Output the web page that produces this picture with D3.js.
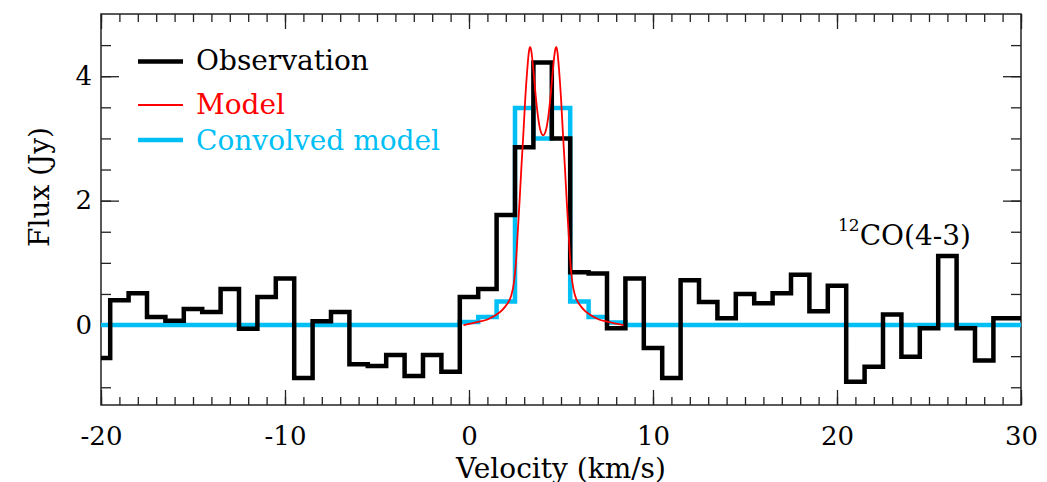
<!DOCTYPE html>
<html>
<head>
<meta charset="utf-8">
<script src="https://cdn.jsdelivr.net/npm/d3@7"></script>
<style>
  html, body { margin: 0; padding: 0; background: #fff; }
  svg { display: block; }
  text { font-family: "DejaVu Serif", "Liberation Serif", serif; }
</style>
</head>
<body>
<svg id="chart" width="1047" height="482"></svg>
<script>
// Channel velocities (km/s), one per spectral bin
const velocity = [-20, -19, -18, -17, -16, -15, -14, -13, -12, -11,
                  -10, -9, -8, -7, -6, -5, -4, -3, -2, -1,
                  0, 1, 2, 3, 4, 5, 6, 7, 8, 9,
                  10, 11, 12, 13, 14, 15, 16, 17, 18, 19,
                  20, 21, 22, 23, 24, 25, 26, 27, 28, 29, 30];

// Observed 12CO(4-3) flux per channel (Jy)
const observedFlux = [-0.53, 0.40, 0.51, 0.13, 0.07, 0.26, 0.21, 0.58, -0.06, 0.45,
                      0.75, -0.85, 0.06, 0.21, -0.63, -0.66, -0.48, -0.82, -0.48, -0.75,
                      0.45, 0.58, 1.77, 2.86, 4.22, 3.00, 0.85, 0.83, -0.05, 0.75,
                      -0.37, -0.85, 0.72, 0.37, 0.11, 0.50, 0.35, 0.51, 0.81, 0.22,
                      0.63, -0.91, -0.67, 0.17, -0.51, -0.05, 1.11, -0.05, -0.57, 0.11, 0.11];

// Model convolved to the channel resolution (Jy)
const convolvedFlux = [0, 0, 0, 0, 0, 0, 0, 0, 0, 0,
                       0, 0, 0, 0, 0, 0, 0, 0, 0, 0,
                       0.05, 0.13, 0.38, 3.49, 3.00, 3.49, 0.38, 0.13, 0.04, 0,
                       0, 0, 0, 0, 0, 0, 0, 0, 0, 0,
                       0, 0, 0, 0, 0, 0, 0, 0, 0, 0, 0];

// Intrinsic double-horned model profile
const modelVelocity = [-0.3, 0.0, 0.5, 1.0, 1.5, 1.8, 2.05, 2.3, 2.45, 2.55,
                       2.65, 2.75, 2.85, 2.95, 3.05, 3.17, 3.25, 3.32, 3.4, 3.5,
                       3.62, 3.75, 3.88, 4.03, 4.18, 4.31, 4.44, 4.56, 4.66, 4.74,
                       4.81, 4.89, 5.01, 5.11, 5.21, 5.31, 5.41, 5.51, 5.61, 5.76,
                       6.01, 6.26, 6.56, 7.06, 7.56, 8.06, 8.4];
const modelFlux = [0, 0.02, 0.05, 0.09, 0.17, 0.24, 0.33, 0.48, 0.7, 1.0,
                   1.5, 2.0, 2.55, 3.05, 3.6, 4.12, 4.38, 4.47, 4.38, 4.1,
                   3.7, 3.35, 3.13, 3.05, 3.13, 3.35, 3.7, 4.1, 4.38, 4.47,
                   4.38, 4.12, 3.6, 3.05, 2.55, 2.0, 1.5, 1.0, 0.7, 0.48,
                   0.33, 0.24, 0.17, 0.09, 0.05, 0.02, 0];

// Axis ticks
const xMajorTicks = [-20, -10, 0, 10, 20, 30];
const xMinorTicks = d3.range(-20, 31, 1);
const yMajorTicks = [0, 2, 4];
const yMinorTicks = [-1, -0.5, 0, 0.5, 1, 1.5, 2, 2.5, 3, 3.5, 4, 4.5];

const legendItems = [
  { label: "Observation", color: "#000000", width: 4.5 },
  { label: "Model", color: "#ff0000", width: 1.8 },
  { label: "Convolved model", color: "#00bff5", width: 4.5 }
];

const plot = { left: 101, right: 1021, top: 14, bottom: 405 };

const svg = d3.select("#chart");

const x = d3.scaleLinear().domain([-20, 30]).range([plot.left, plot.right]);
const y = d3.scaleLinear().domain([-1.285, 5.0]).range([plot.bottom, plot.top]);

const axisColor = "#222";
const fmt = d => String(d);

function styleAxis(g) {
  g.select(".domain").remove();
  g.selectAll(".tick line").attr("stroke", axisColor).attr("stroke-width", 1.3);
  g.selectAll(".tick text")
    .attr("fill", "#000")
    .style("font-family", "'DejaVu Serif', serif")
    .style("font-size", "26px");
}

// Bottom axis: minor + major ticks pointing inward, labels below
svg.append("g").attr("transform", `translate(0,${plot.bottom})`)
  .call(d3.axisBottom(x).tickValues(xMinorTicks).tickSize(-8).tickFormat(""))
  .call(styleAxis);
svg.append("g").attr("transform", `translate(0,${plot.bottom})`)
  .call(d3.axisBottom(x).tickValues(xMajorTicks).tickSizeInner(-15).tickSizeOuter(0)
        .tickPadding(22).tickFormat(fmt))
  .call(styleAxis);

// Top axis (ticks only)
svg.append("g").attr("transform", `translate(0,${plot.top})`)
  .call(d3.axisTop(x).tickValues(xMinorTicks).tickSize(-8).tickFormat(""))
  .call(styleAxis);
svg.append("g").attr("transform", `translate(0,${plot.top})`)
  .call(d3.axisTop(x).tickValues(xMajorTicks).tickSize(-15).tickFormat(""))
  .call(styleAxis);

// Left axis
svg.append("g").attr("transform", `translate(${plot.left},0)`)
  .call(d3.axisLeft(y).tickValues(yMinorTicks).tickSize(-10).tickFormat(""))
  .call(styleAxis);
svg.append("g").attr("transform", `translate(${plot.left},0)`)
  .call(d3.axisLeft(y).tickValues(yMajorTicks).tickSizeInner(-18).tickSizeOuter(0)
        .tickPadding(9).tickFormat(fmt))
  .call(styleAxis);

// Right axis (ticks only)
svg.append("g").attr("transform", `translate(${plot.right},0)`)
  .call(d3.axisRight(y).tickValues(yMinorTicks).tickSize(-10).tickFormat(""))
  .call(styleAxis);
svg.append("g").attr("transform", `translate(${plot.right},0)`)
  .call(d3.axisRight(y).tickValues(yMajorTicks).tickSize(-18).tickFormat(""))
  .call(styleAxis);

// Frame
svg.append("rect")
  .attr("x", plot.left).attr("y", plot.top)
  .attr("width", plot.right - plot.left).attr("height", plot.bottom - plot.top)
  .attr("fill", "none").attr("stroke", axisColor).attr("stroke-width", 1.5);

// Spectra
const stepLine = d3.line()
  .x(d => x(d[0])).y(d => y(d[1]))
  .curve(d3.curveStep);

const convolvedPts = velocity.map((v, i) => [v, convolvedFlux[i]]);
const observedPts = velocity.map((v, i) => [v, observedFlux[i]]);
const modelPts = modelVelocity.map((v, i) => [v, modelFlux[i]]);

svg.append("path").datum(convolvedPts)
  .attr("d", stepLine)
  .attr("fill", "none").attr("stroke", legendItems[2].color)
  .attr("stroke-width", legendItems[2].width).attr("stroke-linejoin", "miter");

svg.append("path").datum(observedPts)
  .attr("d", stepLine)
  .attr("fill", "none").attr("stroke", legendItems[0].color)
  .attr("stroke-width", legendItems[0].width).attr("stroke-linejoin", "miter");

svg.append("path").datum(modelPts)
  .attr("d", d3.line().x(d => x(d[0])).y(d => y(d[1])).curve(d3.curveMonotoneX))
  .attr("fill", "none").attr("stroke", legendItems[1].color)
  .attr("stroke-width", legendItems[1].width);

// Legend
const legend = svg.append("g");
const legendY = [61.5, 105, 140];
const legendBase = [69.5, 114, 150];
legendItems.forEach((item, i) => {
  legend.append("line")
    .attr("x1", 138).attr("x2", 183)
    .attr("y1", legendY[i]).attr("y2", legendY[i])
    .attr("stroke", item.color).attr("stroke-width", item.width);
  legend.append("text")
    .attr("x", 196).attr("y", legendBase[i])
    .attr("fill", item.color)
    .style("font-size", "28px")
    .text(item.label);
});

// Line label
const lineLabel = svg.append("text")
  .attr("x", 838).attr("y", 245)
  .attr("fill", "#000")
  .style("font-size", "28px");
lineLabel.append("tspan").attr("dy", -14).style("font-size", "17px").text("12");
lineLabel.append("tspan").attr("dy", 14).text("CO(4-3)");

// Axis titles
svg.append("text")
  .attr("x", (plot.left + plot.right) / 2).attr("y", 478)
  .attr("text-anchor", "middle")
  .style("font-size", "28px")
  .text("Velocity (km/s)");

svg.append("text")
  .attr("transform", "translate(49,187) rotate(-90)")
  .attr("text-anchor", "middle")
  .style("font-size", "28px")
  .text("Flux (Jy)");
</script>
</body>
</html>
